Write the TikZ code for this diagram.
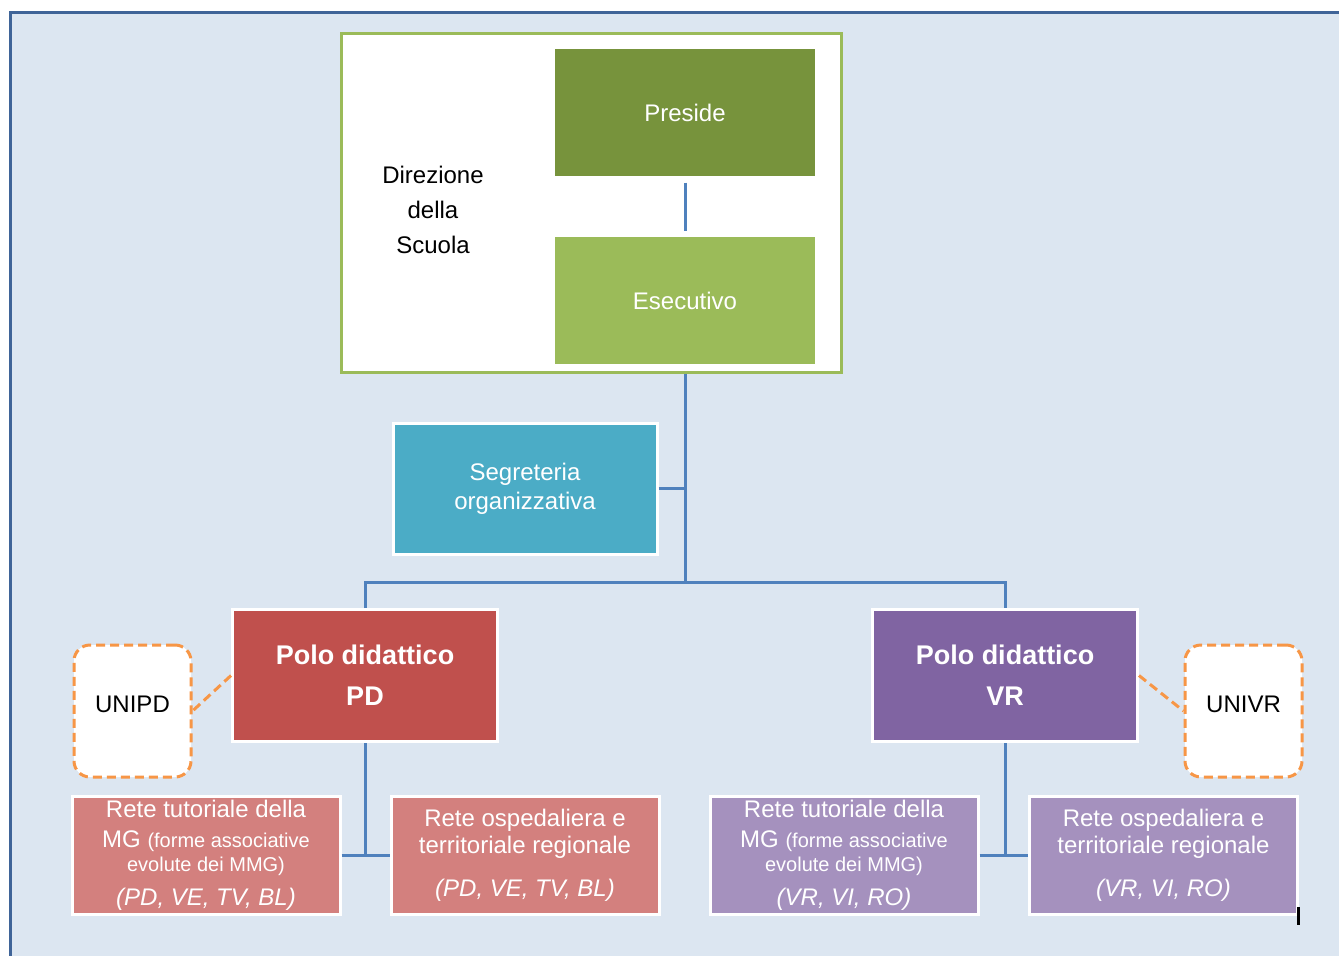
\documentclass[tikz,border=0pt]{standalone}
\usepackage{fontspec}
\setmainfont{Liberation Sans}
\usetikzlibrary{positioning}
\definecolor{sfondo}{HTML}{DCE6F1}
\definecolor{cornice}{HTML}{3F6498}
\definecolor{linea}{HTML}{4F81BD}
\definecolor{verdeScuro}{HTML}{77933C}
\definecolor{verde}{HTML}{9BBB59}
\definecolor{azzurro}{HTML}{4BACC6}
\definecolor{rosso}{HTML}{C0504D}
\definecolor{rossoChiaro}{HTML}{D3807E}
\definecolor{viola}{HTML}{8064A2}
\definecolor{violaChiaro}{HTML}{A591BE}
\definecolor{arancio}{HTML}{F79646}
\tikzstyle{box}=[draw=white,line width=3pt,inner sep=0pt,align=center,text=white,font=\fontsize{24}{29}\selectfont]
\tikzstyle{direz}=[box,draw=none,minimum width=260pt,minimum height=127pt]
\tikzstyle{polo}=[box,minimum width=265pt,minimum height=132pt,font=\bfseries\fontsize{27}{41}\selectfont]
\tikzstyle{rete}=[box,minimum width=268pt,minimum height=118pt]
\tikzstyle{uni}=[draw=arancio,dash pattern=on 9pt off 5pt,line width=3pt,fill=white,rounded corners=16pt,minimum width=117pt,minimum height=132pt,inner sep=0pt,font=\fontsize{24}{29}\selectfont]
\tikzstyle{link}=[draw=linea,line width=3pt]
\tikzstyle{uniLink}=[draw=arancio,dash pattern=on 9pt off 5pt,line width=3pt]
\newcommand{\piccolo}{\fontsize{20}{24}\selectfont}

\begin{document}
\begin{tikzpicture}[x=1pt,y=-1pt]
    \useasboundingbox (0,0) rectangle (1339,956);
    \fill[white] (0,0) rectangle (1339,956);
    \draw[fill=sfondo,draw=cornice,line width=3pt] (10,12) rectangle (1360,975);
    % direzione della scuola
    \node[draw=verde,line width=3pt,fill=white,minimum width=500pt,minimum height=339pt,inner sep=0pt](direzione) at (591,202.5){};
    \node[font=\fontsize{24}{35}\selectfont,align=center](dirLabel) at (433,210){Direzione\\della\\Scuola};
    \node[direz,fill=verdeScuro](preside) at (685,112.5){Preside};
    \node[direz,fill=verde](esecutivo) at (685,300.5){Esecutivo};
    \node[box,fill=azzurro,minimum width=264pt,minimum height=131pt](segreteria) at (525,488.5){Segreteria\\organizzativa};
    % poli didattici
    \node[polo,fill=rosso](poloPD) at (365,675.5){Polo didattico\\PD};
    \node[polo,fill=viola](poloVR) at (1005,675.5){Polo didattico\\VR};
    \node[uni](unipd) at (132.5,711){\raisebox{14pt}{UNIPD}};
    \node[uni](univr) at (1243.5,711){\raisebox{14pt}{UNIVR}};
    % reti
    \node[rete,fill=rossoChiaro](tutPD) at (206,855.5){Rete tutoriale della\\[1pt]MG {\piccolo(forme associative}\\[-5pt]{\piccolo evolute dei MMG)}\\[5pt]\textit{(PD, VE, TV, BL)}};
    \node[rete,fill=rossoChiaro](ospPD) at (525,855.5){Rete ospedaliera e\\[-2pt]territoriale regionale\\[14pt]\textit{(PD, VE, TV, BL)}};
    \node[rete,fill=violaChiaro](tutVR) at (844,855.5){Rete tutoriale della\\[1pt]MG {\piccolo(forme associative}\\[-5pt]{\piccolo evolute dei MMG)}\\[5pt]\textit{(VR, VI, RO)}};
    \node[rete,fill=violaChiaro](ospVR) at (1163.5,855.5){Rete ospedaliera e\\[-2pt]territoriale regionale\\[14pt]\textit{(VR, VI, RO)}};
    \coordinate (snodo) at (685,582);
    \path[link]
    (preside) edge [shorten <=5pt,shorten >=5pt] (esecutivo)
    (esecutivo.south |- direzione.south) edge (snodo)
    (segreteria.east) edge (segreteria.east -| snodo)
    (poloPD.south) edge (poloPD.south |- tutPD.east)
    (poloVR.south) edge (poloVR.south |- tutVR.east)
    (tutPD.east) edge (ospPD.west)
    (tutVR.east) edge (ospVR.west)
    ;
    \draw[link] (poloPD.north) |- (snodo) -| (poloVR.north);
    \path[uniLink]
    (poloPD.west) edge (unipd.east)
    (poloVR.east) edge (univr.west)
    ;
    \draw[line width=3pt] (1298,907) -- (1298,925);
\end{tikzpicture}
\end{document}
